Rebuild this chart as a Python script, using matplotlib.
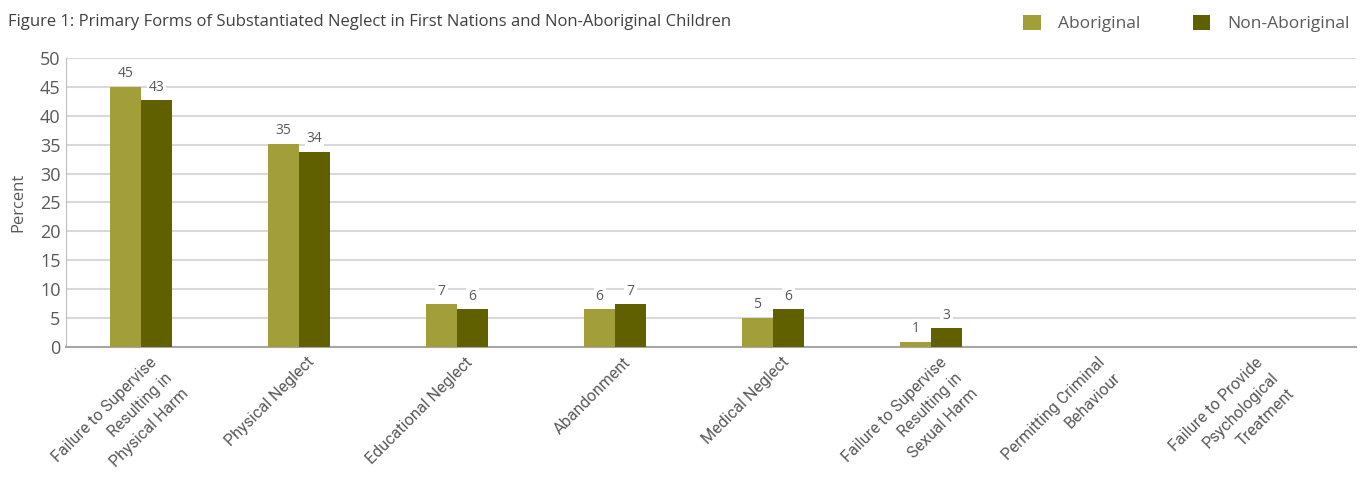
import matplotlib.pyplot as plt
import matplotlib.transforms as mtransforms
import numpy as np

categories = ["Failure to Supervise\nResulting in\nPhysical Harm", "Physical Neglect",
              "Educational Neglect", "Abandonment", "Medical Neglect",
              "Failure to Supervise\nResulting in\nSexual Harm",
              "Permitting Criminal\nBehaviour",
              "Failure to Provide\nPsychological\nTreatment"]
aboriginal = [45.0, 35.2, 7.4, 6.5, 5.1, 0.9, 0, 0]
non_aboriginal = [42.7, 33.8, 6.5, 7.4, 6.5, 3.2, 0, 0]
aboriginal_labels = ["45", "35", "7", "6", "5", "1", "", ""]
non_aboriginal_labels = ["43", "34", "6", "7", "6", "3", "", ""]
yticks = list(range(0, 51, 5))

plt.rcParams['font.family'] = ['Open Sans', 'DejaVu Sans']
grey = "#595959"

fig = plt.figure(figsize=(13.66, 4.79), dpi=100)
ax = fig.add_axes([0.0483, 0.2756, 0.9444, 0.6034])

x = np.arange(len(categories))
w = 0.196
b1 = ax.bar(x - w / 2, aboriginal, w, color="#A29E3A", label="Aboriginal", zorder=3)
b2 = ax.bar(x + w / 2, non_aboriginal, w, color="#606000", label="Non-Aboriginal", zorder=3)

box = dict(facecolor="white", edgecolor="none", pad=1.5)
for bars, labs in [(b1, aboriginal_labels), (b2, non_aboriginal_labels)]:
    for bar, lab in zip(bars, labs):
        if lab:
            ax.annotate(lab, (bar.get_x() + bar.get_width() / 2, bar.get_height()),
                        xytext=(0, 4), textcoords="offset points", ha="center", va="bottom",
                        fontsize=10, color=grey, bbox=box, zorder=4)

ax.set_xlim(-0.475, 7.69)
ax.set_ylim(0, 50)
ax.set_yticks(yticks)
ax.yaxis.grid(True, color="#D9D9D9", linewidth=1.5, zorder=0)
ax.tick_params(axis="y", length=0, labelsize=13, labelcolor=grey, pad=4)
ax.tick_params(axis="x", length=0, pad=4)
ax.set_xticks(x)
ax.set_xticklabels(categories, rotation=45, ha="right", rotation_mode="anchor",
                   multialignment="right", fontsize=11.6, color=grey, linespacing=1.6,
                   family=['Roboto', 'Open Sans'])
shift = mtransforms.ScaledTranslation(0.08, -0.02, fig.dpi_scale_trans)
for lab in ax.get_xticklabels():
    lab.set_transform(lab.get_transform() + shift)
for s in ["top", "right"]:
    ax.spines[s].set_visible(False)
ax.spines["left"].set_color("#BFBFBF")
ax.spines["bottom"].set_color("#A6A6A6")
ax.spines["bottom"].set_linewidth(1.5)
ax.set_ylabel("Percent", fontsize=12, color=grey, labelpad=10)

fig.text(0.006, 0.955, "Figure 1: Primary Forms of Substantiated Neglect in First Nations and Non-Aboriginal Children",
         fontsize=12, color="#404040", va="center")
fig.legend(loc="upper right", bbox_to_anchor=(0.997, 0.995), ncol=2, frameon=False,
           borderaxespad=0.3, handlelength=1.0, handleheight=1.0, columnspacing=3.0,
           handletextpad=1.0, fontsize=12.5, labelcolor=grey)

fig.savefig("out.png", dpi=100)
